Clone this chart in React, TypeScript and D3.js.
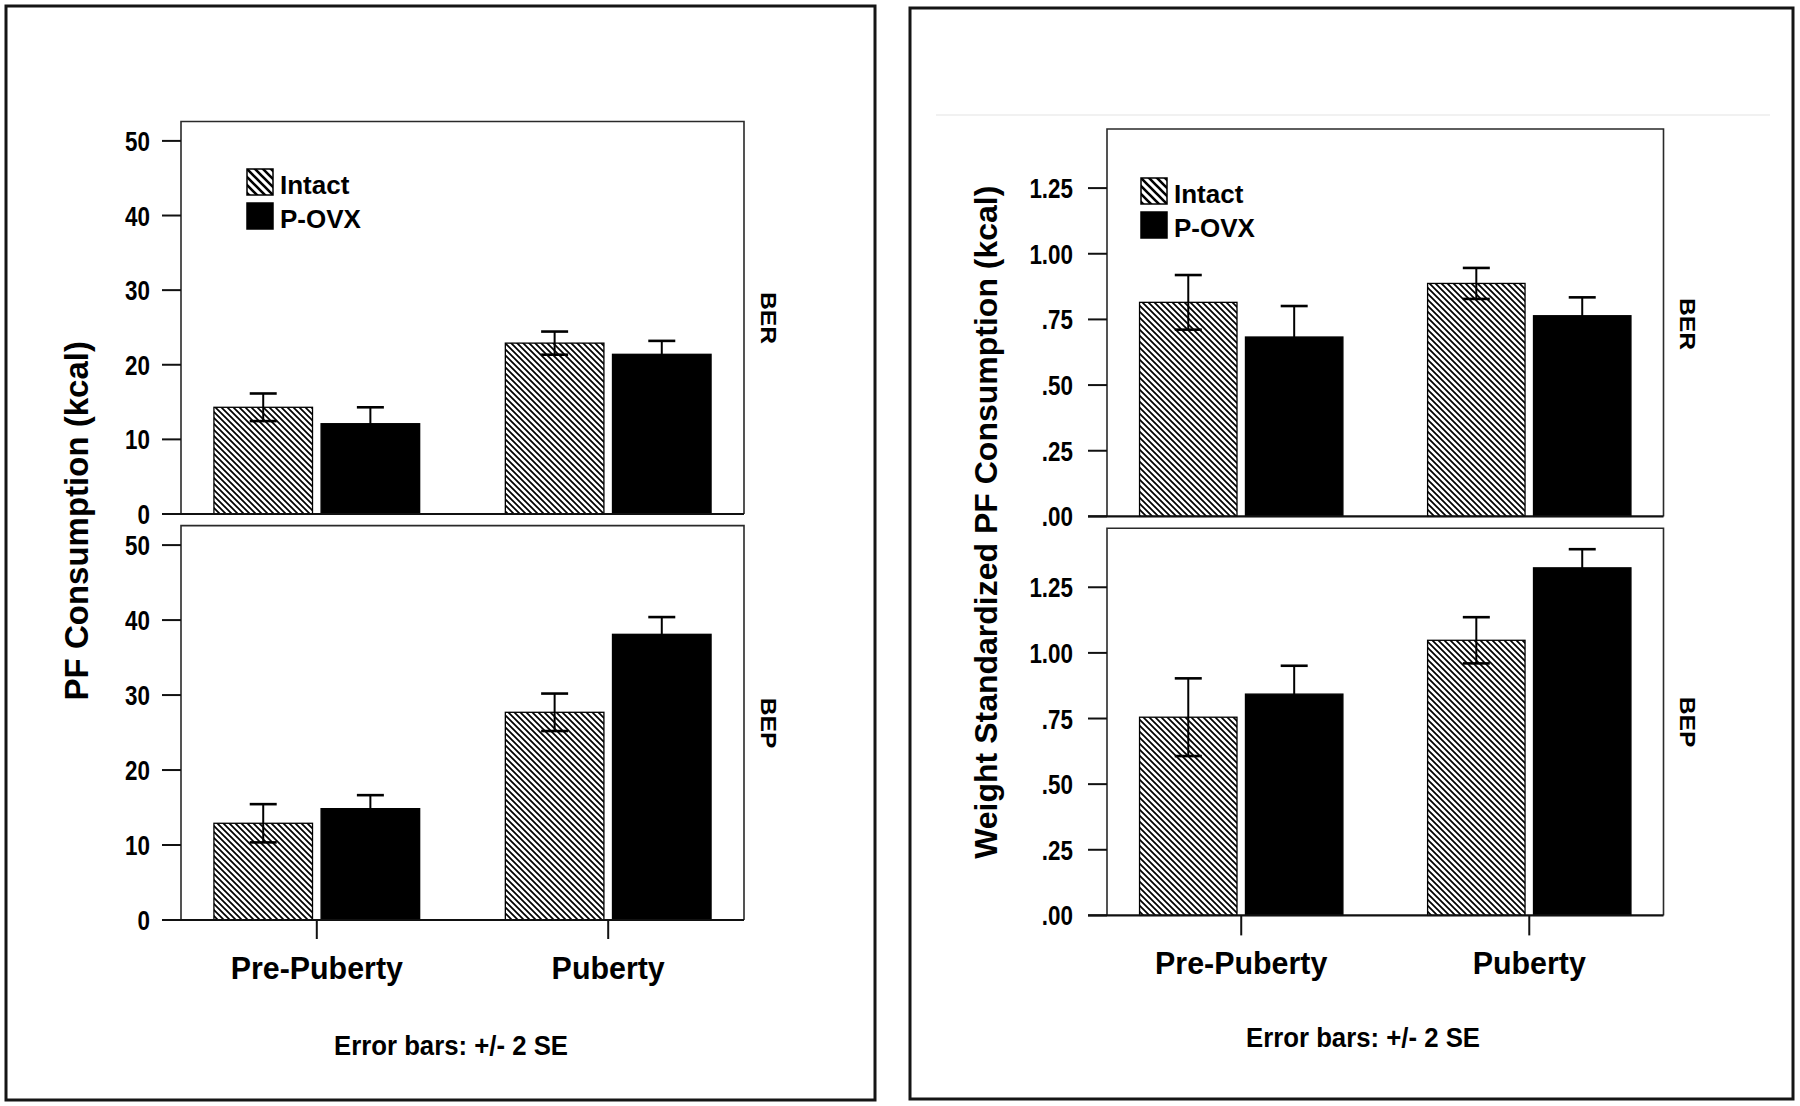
import React from "react";
import * as d3 from "d3";

const categories = ["Pre-Puberty", "Puberty"];
const groups = ["Intact", "P-OVX"];
const panelNames = ["BER", "BEP"];

// Left chart: PF Consumption (kcal)
const kcalBerIntact = [14.3, 22.9];
const kcalBerIntactErr = [1.85, 1.55];
const kcalBerPovx = [12.1, 21.4];
const kcalBerPovxErr = [2.2, 1.8];
const kcalBepIntact = [12.9, 27.7];
const kcalBepIntactErr = [2.55, 2.5];
const kcalBepPovx = [14.85, 38.1];
const kcalBepPovxErr = [1.8, 2.3];
const kcalTicks = [0, 10, 20, 30, 40, 50];
const kcalTickLabels = ["0", "10", "20", "30", "40", "50"];

// Right chart: Weight Standardized PF Consumption (kcal)
const wsBerIntact = [0.815, 0.887];
const wsBerIntactErr = [0.104, 0.059];
const wsBerPovx = [0.683, 0.764];
const wsBerPovxErr = [0.118, 0.07];
const wsBepIntact = [0.755, 1.048];
const wsBepIntactErr = [0.148, 0.088];
const wsBepPovx = [0.843, 1.324];
const wsBepPovxErr = [0.108, 0.071];
const wsTicks = [0, 0.25, 0.5, 0.75, 1.0, 1.25];
const wsTickLabels = [".00", ".25", ".50", ".75", "1.00", "1.25"];

const FONT = "'Liberation Sans', Arial, sans-serif";

type PanelData = { values: number[][]; errs: number[][]; name: string };

type ChartCfg = {
  box: [number, number, number, number];
  plotX: [number, number];
  panels: { y0: number; y1: number; data: PanelData }[];
  domainMax: number;
  ticks: number[];
  tickLabels: string[];
  tickStartOffset: number;
  labelGap: number;
  title: string;
  titleX: number;
  titleSize: number;
  catBaseline: number;
  catTickLen: number;
  errText: [number, number];
  legend: [number, number];
  stripLabelX: number;
  stripLabelY: number[];
  faintLine?: [number, number, number];
};

function Chart({ cfg }: { cfg: ChartCfg }) {
  const x = d3.scalePoint<string>().domain(categories).range(cfg.plotX).padding(0.466);
  const half = x.step() * 0.353;
  const xs = d3.scaleBand<string>().domain(groups).range([-half, half]).paddingInner(0.08);
  const [bx0, by0, bx1, by1] = cfg.box;
  const px0 = cfg.plotX[0];
  const px1 = cfg.plotX[1];
  const tickStart = px0 - cfg.tickStartOffset;
  const titleY = (cfg.panels[0].y1 + cfg.panels[1].y0) / 2;
  return (
    <g>
      <rect x={bx0} y={by0} width={bx1 - bx0} height={by1 - by0} fill="white" stroke="#151515" strokeWidth={3} />
      {cfg.faintLine && (
        <line x1={cfg.faintLine[0]} x2={cfg.faintLine[1]} y1={cfg.faintLine[2]} y2={cfg.faintLine[2]} stroke="#ececec" strokeWidth={1.5} />
      )}
      {cfg.panels.map((p, pi) => {
        const y = d3.scaleLinear().domain([0, cfg.domainMax]).range([p.y0, p.y1]);
        return (
          <g key={pi}>
            <path
              d={`M${px0},${p.y0} V${p.y1} H${px1} V${p.y0}`}
              fill="none"
              stroke="#2a2a2a"
              strokeWidth={1.6}
            />
            {categories.map((c, ci) =>
              groups.map((g, gi) => {
                const v = p.data.values[gi][ci];
                const e = p.data.errs[gi][ci];
                const bx = (x(c) as number) + (xs(g) as number);
                const bw = xs.bandwidth();
                const cx = bx + bw / 2;
                const capW = 27;
                return (
                  <g key={`${ci}-${gi}`}>
                    <rect
                      x={bx}
                      y={y(v)}
                      width={bw}
                      height={y(0) - y(v)}
                      fill={gi === 0 ? "url(#hatch)" : "#000"}
                      stroke="#000"
                      strokeWidth={1.3}
                    />
                    <line x1={cx} x2={cx} y1={y(v + e)} y2={y(v - e)} stroke="#000" strokeWidth={2} />
                    <line x1={cx - capW / 2} x2={cx + capW / 2} y1={y(v + e)} y2={y(v + e)} stroke="#000" strokeWidth={2.6} />
                    <line x1={cx - capW / 2} x2={cx + capW / 2} y1={y(v - e)} y2={y(v - e)} stroke="#000" strokeWidth={2.6} />
                  </g>
                );
              })
            )}
            <line x1={tickStart} x2={px1} y1={p.y0} y2={p.y0} stroke="#111" strokeWidth={2.2} />
            {cfg.ticks.map((t, ti) => (
              <g key={ti}>
                <line x1={tickStart} x2={px0} y1={y(t)} y2={y(t)} stroke="#111" strokeWidth={2} />
                <text
                  transform={`translate(${tickStart - cfg.labelGap},${y(t) + 10}) scale(0.8,1)`}
                  textAnchor="end"
                  fontFamily={FONT}
                  fontWeight="bold"
                  fontSize={28}
                  fill="#000"
                >
                  {cfg.tickLabels[ti]}
                </text>
              </g>
            ))}
            <text
              transform={`translate(${cfg.stripLabelX},${cfg.stripLabelY[pi]}) rotate(90) scale(1.12,1)`}
              textAnchor="middle"
              fontFamily={FONT}
              fontWeight="bold"
              fontSize={22}
              fill="#000"
            >
              {p.data.name}
            </text>
            {pi === cfg.panels.length - 1 &&
              categories.map((c) => (
                <g key={c}>
                  <line x1={x(c)} x2={x(c)} y1={p.y0} y2={p.y0 + cfg.catTickLen} stroke="#111" strokeWidth={2} />
                  <text
                    transform={`translate(${x(c)},${cfg.catBaseline}) scale(0.95,1)`}
                    textAnchor="middle"
                    fontFamily={FONT}
                    fontWeight="bold"
                    fontSize={32}
                    fill="#000"
                  >
                    {c}
                  </text>
                </g>
              ))}
          </g>
        );
      })}
      <g transform={`translate(${cfg.legend[0]},${cfg.legend[1]})`}>
        <rect x={0} y={0} width={26} height={26} fill="url(#hatchLegend)" stroke="#000" strokeWidth={1.5} />
        <rect x={0} y={34} width={26} height={26} fill="#000" stroke="#000" strokeWidth={1.5} />
        <text x={33} y={25} fontFamily={FONT} fontWeight="bold" fontSize={26} fill="#000">
          {groups[0]}
        </text>
        <text x={33} y={59} fontFamily={FONT} fontWeight="bold" fontSize={26} fill="#000">
          {groups[1]}
        </text>
      </g>
      <text
        transform={`translate(${cfg.titleX},${titleY}) rotate(-90)`}
        textAnchor="middle"
        fontFamily={FONT}
        fontWeight="bold"
        fontSize={cfg.titleSize}
        fill="#000"
      >
        {cfg.title}
      </text>
      <text
        transform={`translate(${cfg.errText[0]},${cfg.errText[1]}) scale(0.92,1)`}
        textAnchor="middle"
        fontFamily={FONT}
        fontWeight="bold"
        fontSize={28}
        fill="#000"
      >
        Error bars: +/- 2 SE
      </text>
    </g>
  );
}

export default function App() {
  const leftCfg: ChartCfg = {
    box: [6, 6, 875, 1100],
    plotX: [181, 744],
    panels: [
      { y0: 514, y1: 121.5, data: { name: panelNames[0], values: [kcalBerIntact, kcalBerPovx], errs: [kcalBerIntactErr, kcalBerPovxErr] } },
      { y0: 920, y1: 525.6, data: { name: panelNames[1], values: [kcalBepIntact, kcalBepPovx], errs: [kcalBepIntactErr, kcalBepPovxErr] } },
    ],
    domainMax: 52.6,
    ticks: kcalTicks,
    tickLabels: kcalTickLabels,
    tickStartOffset: 19,
    labelGap: 12,
    title: "PF Consumption (kcal)",
    titleX: 88,
    titleSize: 33,
    catBaseline: 979,
    catTickLen: 19,
    errText: [451, 1055],
    legend: [247, 169],
    stripLabelX: 761,
    stripLabelY: [318, 723],
  };
  const rightCfg: ChartCfg = {
    box: [910, 8, 1793, 1099],
    plotX: [1107, 1663.5],
    panels: [
      { y0: 516.4, y1: 129, data: { name: panelNames[0], values: [wsBerIntact, wsBerPovx], errs: [wsBerIntactErr, wsBerPovxErr] } },
      { y0: 915.4, y1: 528.2, data: { name: panelNames[1], values: [wsBepIntact, wsBepPovx], errs: [wsBepIntactErr, wsBepPovxErr] } },
    ],
    domainMax: 1.475,
    ticks: wsTicks,
    tickLabels: wsTickLabels,
    tickStartOffset: 19,
    labelGap: 15,
    title: "Weight Standardized PF Consumption (kcal)",
    titleX: 997,
    titleSize: 32,
    catBaseline: 974,
    catTickLen: 20,
    errText: [1363, 1047],
    legend: [1141, 178],
    stripLabelX: 1680,
    stripLabelY: [324, 722],
    faintLine: [936, 1770, 115],
  };
  return (
    <svg
      width={1800}
      height={1106}
      viewBox="0 0 1800 1106"
      style={{ position: "absolute", left: 0, top: 0, background: "white" }}
    >
      <defs>
        <pattern id="hatch" patternUnits="userSpaceOnUse" width={6} height={6}>
          <rect width={6} height={6} fill="white" />
          <path d="M-1,-1 L7,7 M-1,5 L1,7 M5,-1 L7,1" stroke="#000" strokeWidth={1.7} />
        </pattern>
        <pattern id="hatchLegend" patternUnits="userSpaceOnUse" width={8} height={8}>
          <rect width={8} height={8} fill="white" />
          <path d="M-1,-1 L9,9 M-1,7 L1,9 M7,-1 L9,1" stroke="#000" strokeWidth={2.6} />
        </pattern>
      </defs>
      <rect width={1800} height={1106} fill="white" />
      <Chart cfg={leftCfg} />
      <Chart cfg={rightCfg} />
    </svg>
  );
}
